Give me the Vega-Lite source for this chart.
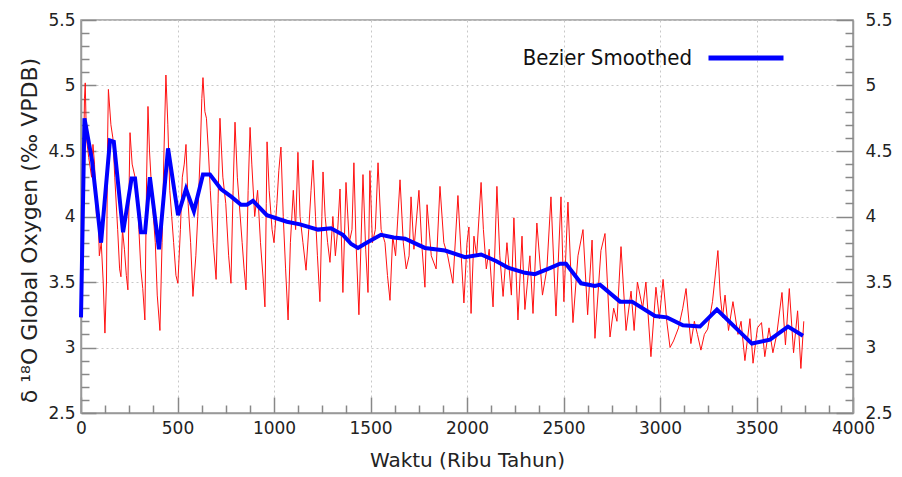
{
  "$schema": "https://vega.github.io/schema/vega-lite/v6.json",
  "width": 772,
  "height": 393,
  "autosize": "none",
  "padding": {"left": 81, "top": 20, "right": 49, "bottom": 64},
  "background": "white",
  "config": {
    "font": "DejaVu Sans",
    "view": {"stroke": "#999", "strokeWidth": 1.5},
    "axis": {"labelFont": "DejaVu Sans", "titleFont": "DejaVu Sans", "labelColor": "#222", "titleColor": "#222", "titleFontWeight": "normal", "domainColor": "#999", "domainWidth": 1.5, "tickColor": "#888", "tickWidth": 1.5, "labelFontSize": 17, "titleFontSize": 20, "labelFlush": false}
  },
  "datasets": {
    "red": [
      {"t":0,"v":3.23},{"t":6,"v":3.6},{"t":12,"v":4.3},{"t":18,"v":4.9},{"t":22,"v":5.02},{"t":28,"v":4.6},{"t":40,"v":4.45},{"t":55,"v":4.3},{"t":62,"v":4.55},{"t":70,"v":4.4},{"t":80,"v":4.0},{"t":88,"v":4.05},{"t":95,"v":3.7},{"t":105,"v":3.8},{"t":115,"v":3.5},{"t":124,"v":3.11},{"t":132,"v":3.5},{"t":138,"v":4.6},{"t":142,"v":4.97},{"t":155,"v":4.7},{"t":165,"v":4.6},{"t":175,"v":4.3},{"t":190,"v":3.9},{"t":200,"v":3.6},{"t":207,"v":3.54},{"t":215,"v":3.9},{"t":225,"v":3.75},{"t":235,"v":3.55},{"t":243,"v":3.44},{"t":250,"v":4.3},{"t":254,"v":4.64},{"t":265,"v":4.4},{"t":280,"v":4.3},{"t":290,"v":4.2},{"t":300,"v":3.9},{"t":310,"v":3.6},{"t":320,"v":3.45},{"t":331,"v":3.21},{"t":340,"v":4.3},{"t":347,"v":4.84},{"t":355,"v":4.5},{"t":370,"v":4.1},{"t":385,"v":3.8},{"t":395,"v":3.4},{"t":409,"v":3.13},{"t":420,"v":3.8},{"t":430,"v":4.5},{"t":440,"v":5.08},{"t":450,"v":4.7},{"t":460,"v":4.2},{"t":470,"v":4.0},{"t":480,"v":3.8},{"t":492,"v":3.55},{"t":502,"v":3.49},{"t":515,"v":3.9},{"t":525,"v":4.3},{"t":535,"v":4.4},{"t":544,"v":4.55},{"t":555,"v":4.1},{"t":568,"v":3.8},{"t":580,"v":3.39},{"t":595,"v":3.7},{"t":605,"v":4.0},{"t":618,"v":4.5},{"t":626,"v":4.9},{"t":632,"v":5.06},{"t":642,"v":4.8},{"t":650,"v":4.75},{"t":660,"v":4.5},{"t":670,"v":4.2},{"t":685,"v":3.8},{"t":700,"v":3.52},{"t":710,"v":4.1},{"t":720,"v":4.75},{"t":735,"v":4.3},{"t":750,"v":4.1},{"t":765,"v":3.7},{"t":777,"v":3.49},{"t":788,"v":4.2},{"t":798,"v":4.72},{"t":810,"v":4.3},{"t":820,"v":4.1},{"t":835,"v":3.8},{"t":845,"v":3.6},{"t":855,"v":3.44},{"t":866,"v":4.2},{"t":876,"v":4.68},{"t":885,"v":4.4},{"t":900,"v":4.0},{"t":915,"v":4.2},{"t":930,"v":3.8},{"t":945,"v":3.5},{"t":953,"v":3.31},{"t":960,"v":4.1},{"t":964,"v":4.57},{"t":975,"v":4.2},{"t":990,"v":3.9},{"t":1000,"v":3.8},{"t":1015,"v":4.1},{"t":1025,"v":4.35},{"t":1036,"v":4.53},{"t":1048,"v":4.0},{"t":1060,"v":3.6},{"t":1073,"v":3.21},{"t":1085,"v":3.8},{"t":1100,"v":4.2},{"t":1112,"v":3.9},{"t":1124,"v":4.49},{"t":1135,"v":4.0},{"t":1150,"v":3.8},{"t":1166,"v":3.59},{"t":1180,"v":3.9},{"t":1192,"v":4.2},{"t":1202,"v":4.43},{"t":1215,"v":4.0},{"t":1225,"v":3.7},{"t":1238,"v":3.35},{"t":1248,"v":4.0},{"t":1254,"v":4.34},{"t":1265,"v":4.0},{"t":1278,"v":3.8},{"t":1290,"v":3.65},{"t":1305,"v":4.0},{"t":1318,"v":3.7},{"t":1330,"v":3.9},{"t":1342,"v":4.21},{"t":1357,"v":3.42},{"t":1373,"v":4.26},{"t":1390,"v":3.8},{"t":1404,"v":3.9},{"t":1414,"v":4.41},{"t":1425,"v":3.8},{"t":1440,"v":3.25},{"t":1461,"v":4.32},{"t":1475,"v":3.75},{"t":1487,"v":3.42},{"t":1497,"v":4.35},{"t":1510,"v":3.8},{"t":1525,"v":3.9},{"t":1539,"v":4.41},{"t":1555,"v":3.9},{"t":1575,"v":3.8},{"t":1588,"v":3.55},{"t":1601,"v":3.36},{"t":1615,"v":3.85},{"t":1630,"v":3.7},{"t":1653,"v":4.28},{"t":1670,"v":3.8},{"t":1685,"v":3.6},{"t":1700,"v":3.7},{"t":1710,"v":4.15},{"t":1725,"v":3.75},{"t":1751,"v":4.2},{"t":1765,"v":3.8},{"t":1782,"v":3.46},{"t":1793,"v":4.09},{"t":1815,"v":3.7},{"t":1840,"v":3.6},{"t":1860,"v":4.23},{"t":1880,"v":3.8},{"t":1900,"v":3.7},{"t":1927,"v":3.49},{"t":1953,"v":4.16},{"t":1970,"v":3.7},{"t":1984,"v":3.34},{"t":2000,"v":3.8},{"t":2010,"v":3.92},{"t":2021,"v":3.26},{"t":2036,"v":3.85},{"t":2050,"v":3.7},{"t":2073,"v":4.26},{"t":2085,"v":3.9},{"t":2100,"v":3.6},{"t":2115,"v":3.75},{"t":2135,"v":3.31},{"t":2155,"v":4.23},{"t":2170,"v":3.7},{"t":2187,"v":3.39},{"t":2207,"v":3.8},{"t":2230,"v":3.4},{"t":2243,"v":3.99},{"t":2264,"v":3.21},{"t":2285,"v":3.85},{"t":2300,"v":3.29},{"t":2326,"v":3.7},{"t":2342,"v":3.26},{"t":2362,"v":3.95},{"t":2391,"v":3.4},{"t":2414,"v":3.6},{"t":2435,"v":4.15},{"t":2461,"v":3.24},{"t":2487,"v":4.15},{"t":2502,"v":3.35},{"t":2523,"v":4.11},{"t":2549,"v":3.19},{"t":2575,"v":3.7},{"t":2601,"v":3.9},{"t":2625,"v":3.25},{"t":2648,"v":3.82},{"t":2663,"v":3.07},{"t":2694,"v":3.74},{"t":2715,"v":3.87},{"t":2741,"v":3.08},{"t":2760,"v":3.3},{"t":2777,"v":3.2},{"t":2798,"v":3.77},{"t":2824,"v":3.13},{"t":2850,"v":3.43},{"t":2866,"v":3.13},{"t":2883,"v":3.5},{"t":2910,"v":3.3},{"t":2927,"v":3.5},{"t":2953,"v":2.93},{"t":2979,"v":3.46},{"t":2997,"v":3.22},{"t":3016,"v":3.52},{"t":3035,"v":3.2},{"t":3052,"v":3.0},{"t":3070,"v":3.05},{"t":3096,"v":3.15},{"t":3118,"v":3.3},{"t":3135,"v":3.45},{"t":3160,"v":3.03},{"t":3178,"v":3.2},{"t":3194,"v":3.1},{"t":3212,"v":2.98},{"t":3230,"v":3.1},{"t":3247,"v":3.14},{"t":3272,"v":3.35},{"t":3290,"v":3.6},{"t":3300,"v":3.74},{"t":3312,"v":3.4},{"t":3324,"v":3.23},{"t":3337,"v":3.4},{"t":3355,"v":3.13},{"t":3378,"v":3.35},{"t":3404,"v":3.1},{"t":3420,"v":3.2},{"t":3440,"v":2.9},{"t":3466,"v":3.22},{"t":3482,"v":2.88},{"t":3505,"v":3.15},{"t":3526,"v":3.19},{"t":3543,"v":2.93},{"t":3565,"v":3.15},{"t":3585,"v":2.96},{"t":3605,"v":3.1},{"t":3632,"v":3.42},{"t":3650,"v":3.02},{"t":3670,"v":3.45},{"t":3692,"v":2.96},{"t":3713,"v":3.28},{"t":3730,"v":2.84},{"t":3745,"v":3.2}
    ],
    "blue": [
      {"t":0,"v":3.23},{"t":18,"v":4.75},{"t":57,"v":4.43},{"t":104,"v":3.8},{"t":150,"v":4.58},{"t":170,"v":4.57},{"t":218,"v":3.88},{"t":262,"v":4.29},{"t":280,"v":4.29},{"t":311,"v":3.88},{"t":332,"v":3.88},{"t":357,"v":4.3},{"t":404,"v":3.75},{"t":451,"v":4.52},{"t":503,"v":4.01},{"t":544,"v":4.21},{"t":585,"v":4.04},{"t":632,"v":4.32},{"t":668,"v":4.32},{"t":725,"v":4.21},{"t":780,"v":4.15},{"t":829,"v":4.09},{"t":860,"v":4.09},{"t":891,"v":4.12},{"t":963,"v":4.01},{"t":1067,"v":3.96},{"t":1135,"v":3.94},{"t":1228,"v":3.9},{"t":1295,"v":3.91},{"t":1357,"v":3.86},{"t":1400,"v":3.79},{"t":1435,"v":3.76},{"t":1480,"v":3.8},{"t":1554,"v":3.86},{"t":1620,"v":3.84},{"t":1679,"v":3.83},{"t":1782,"v":3.76},{"t":1886,"v":3.74},{"t":1990,"v":3.69},{"t":2073,"v":3.71},{"t":2150,"v":3.66},{"t":2212,"v":3.61},{"t":2300,"v":3.57},{"t":2352,"v":3.56},{"t":2420,"v":3.6},{"t":2482,"v":3.64},{"t":2513,"v":3.64},{"t":2591,"v":3.49},{"t":2663,"v":3.47},{"t":2689,"v":3.48},{"t":2793,"v":3.35},{"t":2855,"v":3.35},{"t":2974,"v":3.24},{"t":3036,"v":3.23},{"t":3119,"v":3.17},{"t":3207,"v":3.16},{"t":3295,"v":3.29},{"t":3476,"v":3.03},{"t":3570,"v":3.06},{"t":3663,"v":3.16},{"t":3741,"v":3.09}
    ]
  },
  "resolve": {"axis": {"x": "independent", "y": "independent"}},
  "layer": [
    {
      "data": {"name": "red"},
      "mark": {"type": "line", "color": "#ff1010", "strokeWidth": 1},
      "encoding": {
        "x": {"field": "t", "type": "quantitative", "scale": {"domain": [0, 4000], "nice": false},
          "axis": {"orient": "bottom", "values": [0,500,1000,1500,2000,2500,3000,3500,4000], "format": "d", "tickSize": -16, "labelPadding": 23, "grid": true, "gridDash": [2, 3], "gridColor": "#c8c8c8", "gridWidth": 1, "title": "Waktu (Ribu Tahun)", "titlePadding": 14}},
        "y": {"field": "v", "type": "quantitative", "scale": {"domain": [2.5, 5.5], "nice": false, "zero": false},
          "axis": {"orient": "left", "values": [2.5,3,3.5,4,4.5,5,5.5], "format": "~g", "tickSize": -15, "labelPadding": 21, "grid": true, "gridDash": [2, 3], "gridColor": "#c8c8c8", "gridWidth": 1, "title": "δ ¹⁸O Global Oxygen (‰ VPDB)", "titleFontSize": 22, "titleAnchor": "middle", "titleY": 210, "titlePadding": 6}}
      }
    },
    {
      "data": {"name": "blue"},
      "mark": {"type": "line", "strokeWidth": 4},
      "encoding": {
        "x": {"field": "t", "type": "quantitative",
          "axis": {"orient": "bottom", "values": [125,250,375,625,750,875,1125,1250,1375,1625,1750,1875,2125,2250,2375,2625,2750,2875,3125,3250,3375,3625,3750,3875], "tickSize": -8, "labels": false, "grid": false, "domain": false, "title": null}},
        "y": {"field": "v", "type": "quantitative",
          "axis": {"orient": "right", "values": [2.5,3,3.5,4,4.5,5,5.5], "format": "~g", "tickSize": -17, "labelPadding": 29, "grid": false, "title": null}},
        "color": {"datum": "Bezier Smoothed", "type": "nominal", "scale": {"range": ["#0000ff"]},
          "legend": {"orient": "none", "legendX": 625, "legendY": -2, "title": null, "padding": 0, "symbolType": "stroke", "symbolSize": 5625, "symbolStrokeWidth": 5, "labelAlign": "right", "labelOffset": -94, "labelFont": "DejaVu Sans Condensed", "labelFontSize": 22, "labelColor": "#111", "labelLimit": 400}}
      }
    },
    {
      "data": {"name": "blue"},
      "mark": {"type": "line", "opacity": 0},
      "encoding": {
        "x": {"field": "t", "type": "quantitative", "axis": null},
        "y": {"field": "v", "type": "quantitative",
          "axis": {"orient": "left", "values": [2.6,2.7,2.8,2.9,3.1,3.2,3.3,3.4,3.6,3.7,3.8,3.9,4.1,4.2,4.3,4.4,4.6,4.7,4.8,4.9,5.1,5.2,5.3,5.4], "tickSize": -8, "labels": false, "grid": false, "domain": false, "title": null}}
      }
    },
    {
      "data": {"name": "blue"},
      "mark": {"type": "line", "opacity": 0},
      "encoding": {
        "x": {"field": "t", "type": "quantitative", "axis": null},
        "y": {"field": "v", "type": "quantitative",
          "axis": {"orient": "right", "values": [2.6,2.7,2.8,2.9,3.1,3.2,3.3,3.4,3.6,3.7,3.8,3.9,4.1,4.2,4.3,4.4,4.6,4.7,4.8,4.9,5.1,5.2,5.3,5.4], "tickSize": -8, "labels": false, "grid": false, "domain": false, "title": null}}
      }
    }
  ]
}
